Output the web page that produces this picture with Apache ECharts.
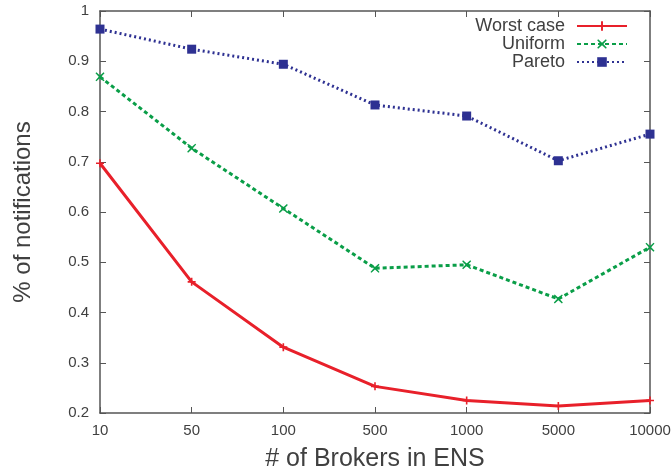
<!DOCTYPE html>
<html>
<head>
<meta charset="utf-8">
<script src="https://cdn.jsdelivr.net/npm/echarts@6/dist/echarts.min.js"></script>
<style>
  html, body { margin: 0; padding: 0; background: #fff; }
  #chart { width: 672px; height: 473px; }
</style>
</head>
<body>
<div id="chart"></div>
<script>
// Number of brokers in the ENS (evenly spaced categories)
const brokers = ['10', '50', '100', '500', '1000', '5000', '10000'];

// Fraction of notifications delivered
const worstCase = [0.697, 0.461, 0.331, 0.253, 0.225, 0.214, 0.225];
const uniform   = [0.869, 0.727, 0.607, 0.488, 0.495, 0.427, 0.530];
const pareto    = [0.964, 0.924, 0.894, 0.813, 0.791, 0.702, 0.755];

const yTicks = { min: 0.2, max: 1, step: 0.1 };

const RED = '#e8202a';
const GREEN = '#0a9e48';
const BLUE = '#2e3192';
const AXIS = '#555555';
const TEXT = '#404040';
const FONT = '"Liberation Sans", Arial, sans-serif';

const plusPath = 'path://M4,0H6V4H10V6H6V10H4V6H0V4H4Z';
const crossPath = 'path://M1,0L5,3.6L9,0L10,1L6.4,5L10,9L9,10L5,6.4L1,10L0,9L3.6,5L0,1Z';

const chart = echarts.init(document.getElementById('chart'), null, { renderer: 'canvas' });

const frameAxis = {
  axisLine: { show: true, lineStyle: { color: AXIS, width: 1.5 } },
  axisTick: { show: true, inside: true, length: 6, lineStyle: { color: AXIS, width: 1 } },
  splitLine: { show: false }
};

chart.setOption({
  animation: false,
  backgroundColor: '#ffffff',
  grid: { left: 100, right: 22, top: 11, bottom: 60, containLabel: false, outerBoundsMode: 'none' },
  legend: {
    orient: 'vertical',
    right: 44,
    top: 17,
    padding: 0,
    align: 'right',
    itemWidth: 50,
    itemHeight: 12,
    itemGap: 0,
    textStyle: { fontFamily: FONT, fontSize: 18, color: TEXT, padding: [0, 7, 0, 0] },
    data: ['Worst case', 'Uniform', 'Pareto']
  },
  xAxis: [
    Object.assign({
      type: 'category',
      data: brokers,
      boundaryGap: false,
      name: '# of Brokers in ENS',
      nameLocation: 'middle',
      nameGap: 34,
      nameTextStyle: { fontFamily: FONT, fontSize: 25, color: TEXT },
      axisLabel: { fontFamily: FONT, fontSize: 15, color: TEXT, margin: 10 }
    }, frameAxis),
    Object.assign({
      type: 'category',
      data: brokers,
      boundaryGap: false,
      position: 'top',
      axisLabel: { show: false }
    }, frameAxis)
  ],
  yAxis: [
    Object.assign({
      type: 'value',
      min: yTicks.min,
      max: yTicks.max,
      interval: yTicks.step,
      name: '% of notifications',
      nameLocation: 'middle',
      nameGap: 65,
      nameTextStyle: { fontFamily: FONT, fontSize: 24, color: TEXT },
      axisLabel: {
        fontFamily: FONT, fontSize: 15, color: TEXT, margin: 11,
        formatter: v => String(Math.round(v * 10) / 10)
      }
    }, frameAxis),
    Object.assign({
      type: 'value',
      min: yTicks.min,
      max: yTicks.max,
      interval: yTicks.step,
      position: 'right',
      axisLabel: { show: false }
    }, frameAxis)
  ],
  series: [
    {
      name: 'Worst case',
      type: 'line',
      data: worstCase,
      symbol: plusPath,
      symbolSize: 8,
      showAllSymbol: true,
      itemStyle: { color: RED },
      lineStyle: { color: RED, width: 3 },
      z: 3
    },
    {
      name: 'Uniform',
      type: 'line',
      data: uniform,
      symbol: crossPath,
      symbolSize: 9,
      itemStyle: { color: GREEN },
      lineStyle: { color: GREEN, width: 3, type: [4, 3] },
      z: 2
    },
    {
      name: 'Pareto',
      type: 'line',
      data: pareto,
      symbol: 'rect',
      symbolSize: 9,
      itemStyle: { color: BLUE },
      lineStyle: { color: BLUE, width: 3, type: [2, 3] },
      z: 1
    }
  ]
});
</script>
</body>
</html>
